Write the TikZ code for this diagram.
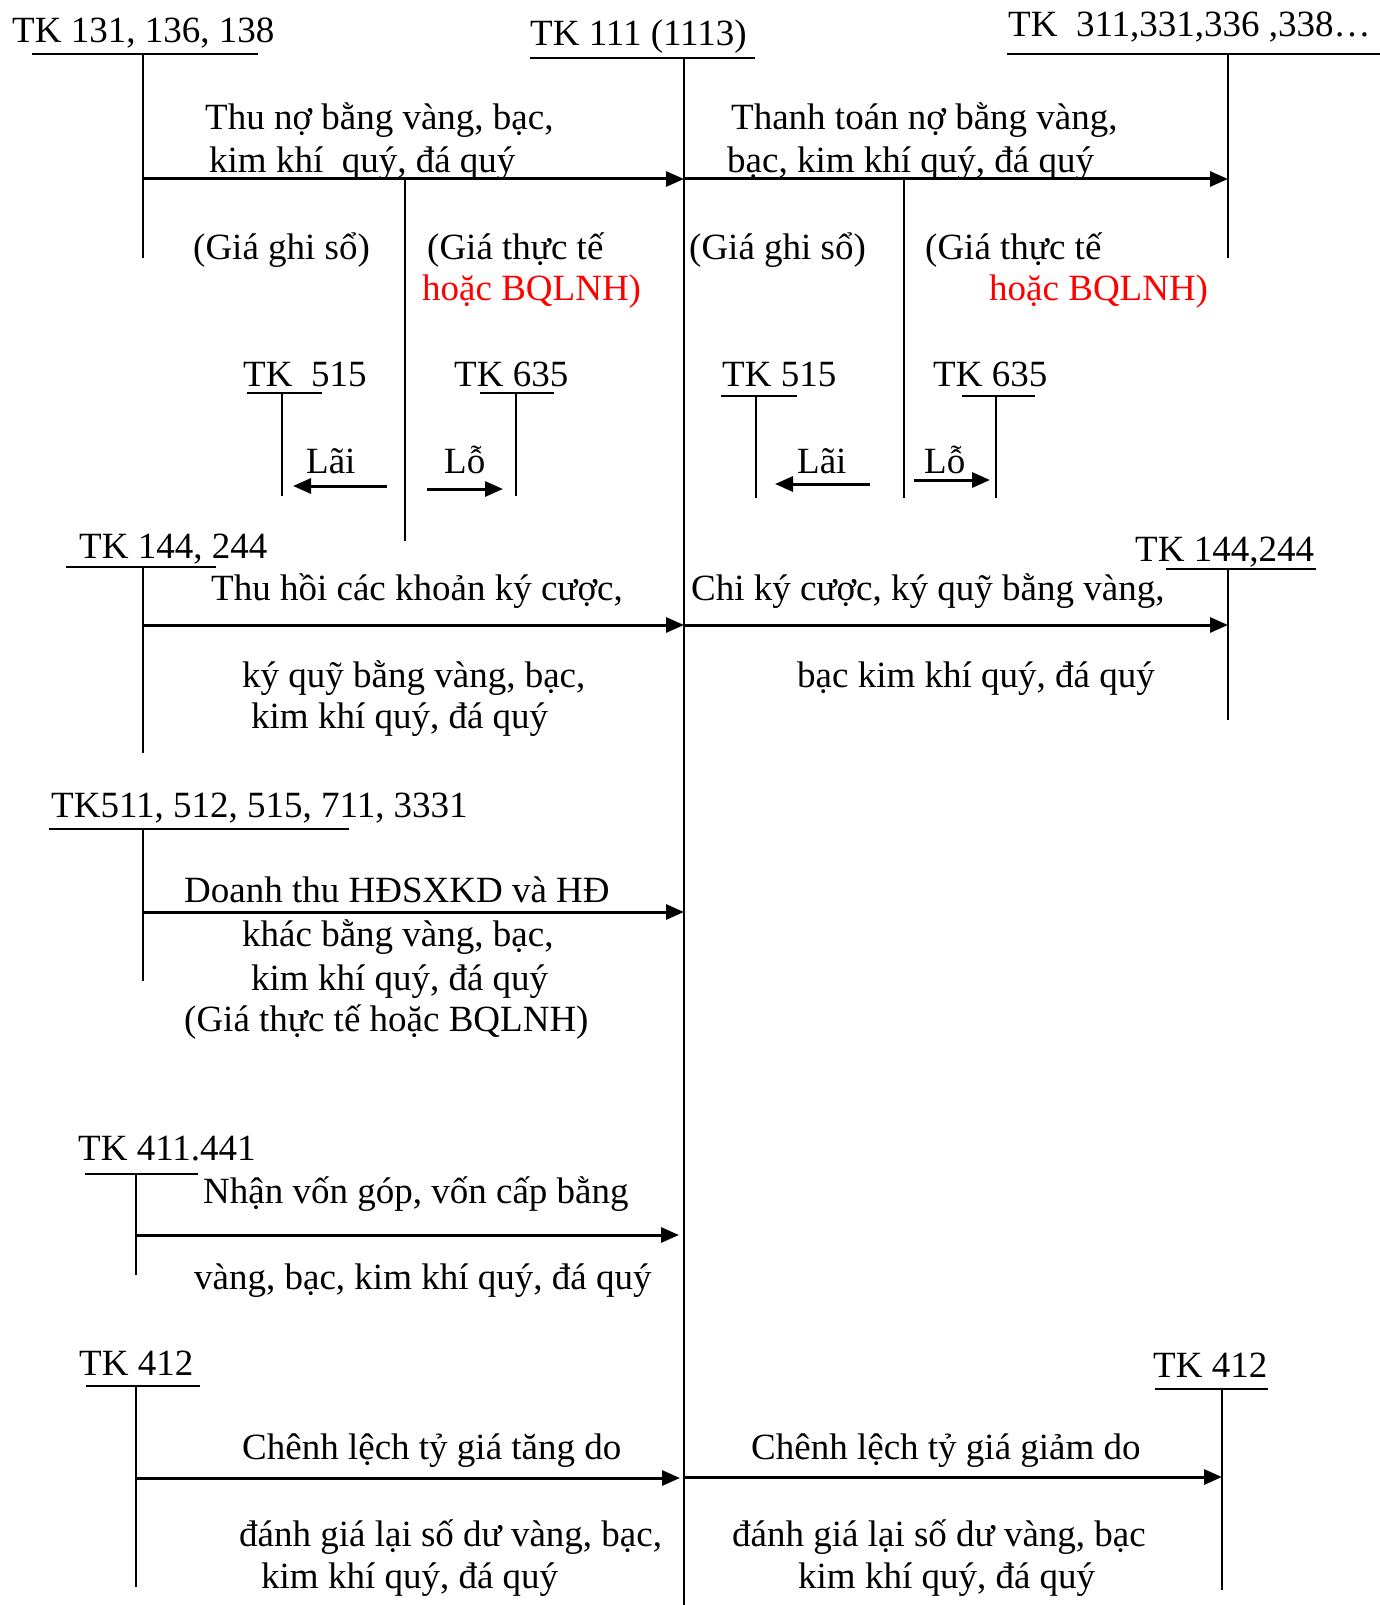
\documentclass[tikz,border=0pt]{standalone}
\usepackage{fontspec}
\setmainfont{Liberation Serif}
\usetikzlibrary{arrows.meta, calc, positioning}
\begin{document}
\begin{tikzpicture}[
  x=1pt, y=-1pt,
  font=\fontsize{37}{42}\selectfont,
  tk/.style={anchor=base west, inner sep=0pt},
  txt/.style={anchor=base west, inner sep=0pt},
  redtxt/.style={txt, text=red},
  uline/.style={line width=2.2pt},
  vline/.style={line width=1.6pt},
  arr/.style={-{Triangle[length=18pt,width=15pt]}, line width=3pt}
]
\useasboundingbox (0,0) rectangle (1380,1605);

% TK 111 (1113)
\node[tk] (tk111) at (530,46) {TK 111 (1113)};
\draw[uline] (530,58) -- (755,58);
\coordinate (mtop) at (684,58);
\coordinate (mbot) at (684,1605);
\draw[vline] (mtop) -- (mbot);

% TK 131, 136, 138
\node[tk] (tk131) at (12,43) {TK 131, 136, 138};
\draw[uline] (32,54) -- (258,54);
\coordinate (t131) at (143,54);
\coordinate (b131) at (143,258);
\draw[vline] (t131) -- (b131);
\coordinate (a1) at (143,179);
\draw[arr] (a1) -- (a1 -| mtop);
\node[txt] (thuno) at (205,130) {Thu nợ bằng vàng, bạc,};
\node[txt] (thuno2) at (209,173) {kim khí\ \ quý, đá quý};
\coordinate (s1) at (405,179);
\coordinate (s1b) at (405,541);
\draw[vline] (s1) -- (s1b);
\node[txt] (ghiso1) at (193,260) {(Giá ghi sổ)};
\node[txt] (thucte1) at (427,260) {(Giá thực tế};
\node[redtxt] (bq1) at (422,300) {hoặc BQLNH)};

% TK 311,331,336,338
\node[tk] (tk311) at (1008,37) {TK\ \ 311,331,336 ,338…};
\draw[uline] (1007,54) -- (1380,54);
\coordinate (t311) at (1228,54);
\coordinate (b311) at (1228,258);
\draw[vline] (t311) -- (b311);
\coordinate (a2) at (684,179);
\draw[arr] (a2) -- (a2 -| t311);
\node[txt] (thanhtoan) at (731,130) {Thanh toán nợ bằng vàng,};
\node[txt] (thanhtoan2) at (727,173) {bạc, kim khí quý, đá quý};
\coordinate (s2) at (904,179);
\coordinate (s2b) at (904,498);
\draw[vline] (s2) -- (s2b);
\node[txt] (ghiso2) at (689,260) {(Giá ghi sổ)};
\node[txt] (thucte2) at (925,260) {(Giá thực tế};
\node[redtxt] (bq2) at (989,300) {hoặc BQLNH)};

% TK 515, TK 635 (trai)
\node[tk] (tk515a) at (243,386) {TK\ \ 515};
\draw[uline] (247,393) -- (322,393);
\coordinate (t515a) at (282,393);
\draw[vline] (t515a) -- ++(0,103);
\node[tk] (tk635a) at (454,386) {TK 635};
\draw[uline] (480,393) -- (554,393);
\coordinate (t635a) at (516,393);
\draw[vline] (t635a) -- ++(0,103);
\coordinate (lai1) at (387,486);
\coordinate (lai1e) at (293,486);
\draw[arr] (lai1) -- (lai1e);
\node[txt] (lai1t) at (306,473) {Lãi};
\coordinate (lo1) at (427,489);
\coordinate (lo1e) at (503,489);
\draw[arr] (lo1) -- (lo1e);
\node[txt] (lo1t) at (444,473) {Lỗ};

% TK 515, TK 635 (phai)
\node[tk] (tk515b) at (722,386) {TK 515};
\draw[uline] (721,396) -- (797,396);
\coordinate (t515b) at (756,396);
\draw[vline] (t515b) -- ++(0,102);
\node[tk] (tk635b) at (933,386) {TK 635};
\draw[uline] (962,396) -- (1035,396);
\coordinate (t635b) at (996,396);
\draw[vline] (t635b) -- ++(0,102);
\coordinate (lai2) at (870,484);
\coordinate (lai2e) at (775,484);
\draw[arr] (lai2) -- (lai2e);
\node[txt] (lai2t) at (797,473) {Lãi};
\coordinate (lo2) at (914,480);
\coordinate (lo2e) at (990,480);
\draw[arr] (lo2) -- (lo2e);
\node[txt] (lo2t) at (924,473) {Lỗ};

% TK 144, 244
\node[tk] (tk144a) at (79,558) {TK 144, 244};
\draw[uline] (66,567) -- (216,567);
\coordinate (t144a) at (143,567);
\draw[vline] (t144a) -- (143,753);
\coordinate (a3) at (143,625);
\draw[arr] (a3) -- (a3 -| mtop);
\node[txt] (thuhoi) at (211,600) {Thu hồi các khoản ký cược,};
\node[txt] (thuhoi2) at (242,687) {ký quỹ bằng vàng, bạc,};
\node[txt] (thuhoi3) at (251,728) {kim khí quý, đá quý};
\node[tk] (tk144b) at (1135,561) {TK 144,244};
\draw[uline] (1166,569) -- (1316,569);
\coordinate (t144b) at (1228,569);
\draw[vline] (t144b) -- (1228,720);
\coordinate (a4) at (684,625);
\draw[arr] (a4) -- (a4 -| t144b);
\node[txt] (chiky) at (691,600) {Chi ký cược, ký quỹ bằng vàng,};
\node[txt] (chiky2) at (797,687) {bạc kim khí quý, đá quý};

% TK 511, 512, 515, 711, 3331
\node[tk] (tk511) at (51,817) {TK511, 512, 515, 711, 3331};
\draw[uline] (49,829) -- (349,829);
\coordinate (t511) at (143,829);
\draw[vline] (t511) -- (143,981);
\coordinate (a5) at (143,912);
\draw[arr] (a5) -- (a5 -| mtop);
\node[txt] (dthu) at (184,902) {Doanh thu HĐSXKD và HĐ};
\node[txt] (dthu2) at (242,946) {khác bằng vàng, bạc,};
\node[txt] (dthu3) at (251,990) {kim khí quý, đá quý};
\node[txt] (dthu4) at (184,1031) {(Giá thực tế hoặc BQLNH)};

% TK 411, 441
\node[tk] (tk411) at (78,1160) {TK 411.441};
\draw[uline] (85,1174) -- (198,1174);
\coordinate (t411) at (136,1174);
\draw[vline] (t411) -- (136,1275);
\coordinate (a6) at (136,1235);
\coordinate (a6e) at (679,1235);
\draw[arr] (a6) -- (a6e);
\node[txt] (nhanvon) at (203,1203) {Nhận vốn góp, vốn cấp bằng};
\node[txt] (nhanvon2) at (194,1289) {vàng, bạc, kim khí quý, đá quý};

% TK 412
\node[tk] (tk412a) at (79,1375) {TK 412};
\draw[uline] (86,1386) -- (200,1386);
\coordinate (t412a) at (136,1386);
\draw[vline] (t412a) -- (136,1587);
\coordinate (a7) at (136,1478);
\coordinate (a7e) at (680,1478);
\draw[arr] (a7) -- (a7e);
\node[txt] (tang) at (242,1459) {Chênh lệch tỷ giá tăng do};
\node[txt] (tang2) at (239,1546) {đánh giá lại số dư vàng, bạc,};
\node[txt] (tang3) at (261,1588) {kim khí quý, đá quý};
\node[tk] (tk412b) at (1153,1377) {TK 412};
\draw[uline] (1155,1389) -- (1268,1389);
\coordinate (t412b) at (1222,1389);
\draw[vline] (t412b) -- (1222,1590);
\coordinate (a8) at (684,1477);
\draw[arr] (a8) -- (a8 -| t412b);
\node[txt] (giam) at (751,1459) {Chênh lệch tỷ giá giảm do};
\node[txt] (giam2) at (732,1546) {đánh giá lại số dư vàng, bạc};
\node[txt] (giam3) at (798,1588) {kim khí quý, đá quý};
\end{tikzpicture}
\end{document}
